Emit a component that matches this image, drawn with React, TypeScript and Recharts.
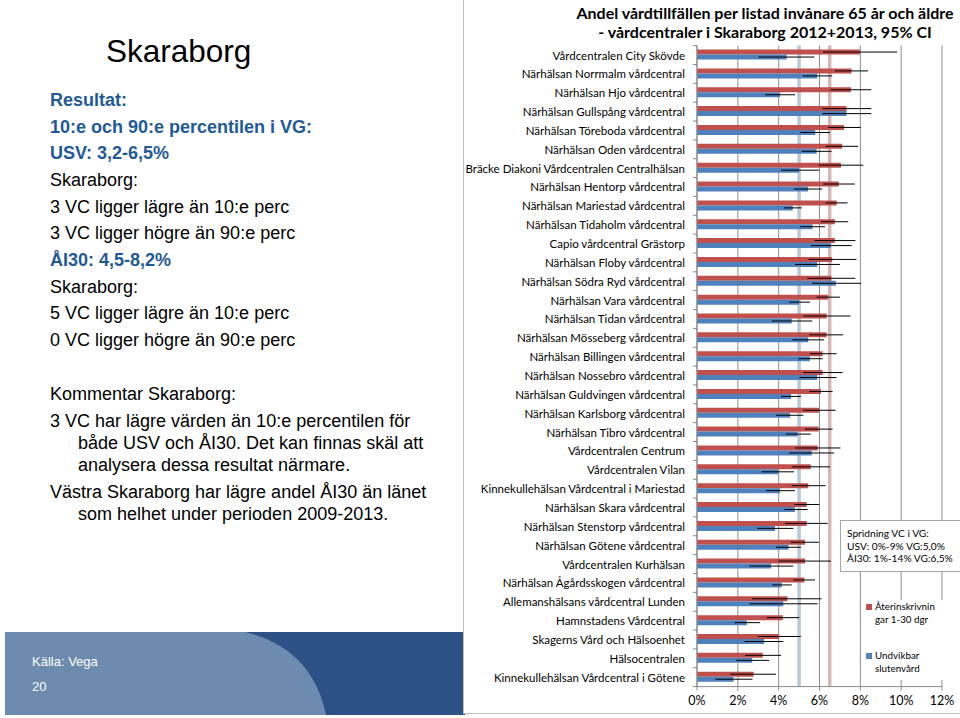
import React from 'react';
import {
  BarChart,
  Bar,
  XAxis,
  YAxis,
  CartesianGrid,
  ErrorBar,
  ReferenceLine,
} from 'recharts';

// Vårdcentraler, top to bottom
const categories = [
  'Vårdcentralen City Skövde',
  'Närhälsan Norrmalm vårdcentral',
  'Närhälsan Hjo vårdcentral',
  'Närhälsan Gullspång vårdcentral',
  'Närhälsan Töreboda vårdcentral',
  'Närhälsan Oden vårdcentral',
  'Bräcke Diakoni Vårdcentralen Centralhälsan',
  'Närhälsan Hentorp vårdcentral',
  'Närhälsan Mariestad vårdcentral',
  'Närhälsan Tidaholm vårdcentral',
  'Capio vårdcentral Grästorp',
  'Närhälsan Floby vårdcentral',
  'Närhälsan Södra Ryd vårdcentral',
  'Närhälsan Vara vårdcentral',
  'Närhälsan Tidan vårdcentral',
  'Närhälsan Mösseberg vårdcentral',
  'Närhälsan Billingen vårdcentral',
  'Närhälsan Nossebro vårdcentral',
  'Närhälsan Guldvingen vårdcentral',
  'Närhälsan Karlsborg vårdcentral',
  'Närhälsan Tibro vårdcentral',
  'Vårdcentralen Centrum',
  'Vårdcentralen Vilan',
  'Kinnekullehälsan Vårdcentral i Mariestad',
  'Närhälsan Skara vårdcentral',
  'Närhälsan Stenstorp vårdcentral',
  'Närhälsan Götene vårdcentral',
  'Vårdcentralen Kurhälsan',
  'Närhälsan Ågårdsskogen vårdcentral',
  'Allemanshälsans vårdcentral Lunden',
  'Hamnstadens Vårdcentral',
  'Skagerns Vård och Hälsoenhet',
  'Hälsocentralen',
  'Kinnekullehälsan Vårdcentral i Götene',
];

// Återinskrivningar 1-30 dgr (%), with 95% CI
const aiValues = [7.98, 7.57, 7.54, 7.32, 7.21, 7.11, 7.05, 6.95, 6.84, 6.75, 6.75, 6.62, 6.58, 6.43, 6.35, 6.35, 6.15, 6.15, 6.07, 5.99, 5.96, 5.91, 5.57, 5.45, 5.37, 5.37, 5.29, 5.29, 5.26, 4.43, 4.2, 4.02, 3.22, 2.77];
const aiLow = [6.18, 6.75, 6.54, 6.14, 6.43, 6.3, 5.96, 6.18, 6.32, 6.07, 5.75, 5.47, 5.4, 5.86, 5.21, 5.5, 5.53, 5.21, 5.5, 5.21, 5.29, 4.8, 4.64, 4.64, 4.77, 4.31, 4.59, 3.99, 4.72, 2.69, 3.42, 2.98, 2.36, 1.63];
const aiHigh = [9.8, 8.38, 8.54, 8.54, 8.02, 7.89, 8.14, 7.73, 7.37, 7.41, 7.76, 7.81, 7.76, 7.0, 7.52, 7.16, 6.84, 7.13, 6.64, 6.79, 6.64, 7.03, 6.51, 6.3, 5.99, 6.4, 5.97, 6.56, 5.78, 6.1, 5.01, 5.08, 4.12, 3.87];

// Undvikbar slutenvård (%), with 95% CI
const usvValues = [4.39, 5.89, 4.07, 7.32, 5.79, 5.86, 5.01, 5.44, 4.69, 5.66, 6.56, 5.89, 6.8, 5.01, 4.64, 5.45, 5.53, 5.89, 4.61, 4.56, 4.93, 5.62, 3.99, 4.07, 4.8, 3.82, 4.48, 3.63, 4.15, 4.23, 2.44, 3.29, 2.7, 1.79];
const usvLow = [3.01, 5.18, 3.34, 6.14, 5.05, 5.13, 4.12, 4.75, 4.26, 5.05, 5.58, 4.8, 5.63, 4.52, 3.66, 4.67, 4.96, 5.01, 4.12, 3.87, 4.35, 4.52, 3.17, 3.39, 4.28, 2.96, 3.87, 2.57, 3.69, 2.57, 1.84, 2.33, 1.92, 0.9];
const usvHigh = [5.75, 6.62, 4.8, 8.54, 6.51, 6.59, 5.97, 6.14, 5.13, 6.27, 7.57, 7.0, 8.04, 5.53, 5.65, 6.23, 6.15, 6.84, 5.09, 5.21, 5.57, 6.72, 4.75, 4.8, 5.42, 4.72, 5.09, 4.72, 4.64, 5.91, 3.09, 4.23, 3.53, 2.72];

const xTicks = [0, 2, 4, 6, 8, 10, 12];

// VG averages drawn as vertical lines
const usvRegion = 5.0;
const aiRegion = 6.5;

const RED = '#c0504d';
const BLUE = '#4f81bd';

const data = categories.map((name, i) => ({
  name,
  ai: aiValues[i],
  aiErr: [aiValues[i] - aiLow[i], aiHigh[i] - aiValues[i]],
  usv: usvValues[i],
  usvErr: [usvValues[i] - usvLow[i], usvHigh[i] - usvValues[i]],
}));

const CHART_W = 500;
const CHART_H = 718;
const MARGIN_TOP = 45.6;
const X_AXIS_H = 31.4;
const BAND = (CHART_H - MARGIN_TOP - X_AXIS_H) / categories.length;

const CategoryTick = (props: any) => {
  const { x, y, payload, index } = props;
  return (
    <g>
      <text
        x={x}
        y={y}
        textAnchor="end"
        dominantBaseline="central"
        fontSize={11.5}
        fontFamily="Lato"
        fill="#000"
      >
        {payload.value}
      </text>
      <line x1={x + 8} x2={x + 12} y1={y - BAND / 2} y2={y - BAND / 2} stroke="#888" />
      {index === categories.length - 1 && (
        <line x1={x + 8} x2={x + 12} y1={y + BAND / 2} y2={y + BAND / 2} stroke="#888" />
      )}
    </g>
  );
};

const LegendBox = () => (
  <div style={{ fontFamily: 'Lato', fontSize: 9.8, lineHeight: '13px', color: '#000' }}>
    <div style={{ position: 'absolute', left: 0, top: 0, display: 'flex' }}>
      <span style={{ width: 6, height: 6, background: RED, marginTop: 4, marginRight: 3 }} />
      <span>Återinskrivnin<br />gar 1-30 dgr</span>
    </div>
    <div style={{ position: 'absolute', left: 0, top: 49, display: 'flex' }}>
      <span style={{ width: 6, height: 6, background: BLUE, marginTop: 4, marginRight: 3 }} />
      <span>Undvikbar<br />slutenvård</span>
    </div>
  </div>
);

const line = (text: string, top: number, left = 50, style: React.CSSProperties = {}) => (
  <div
    style={{
      position: 'absolute',
      left,
      top,
      fontSize: 18,
      lineHeight: '20px',
      whiteSpace: 'nowrap',
      ...style,
    }}
  >
    {text}
  </div>
);

const blueBold: React.CSSProperties = { color: '#1f5a96', fontWeight: 'bold' };

export default function App() {
  return (
    <div
      style={{
        position: 'absolute',
        left: 0,
        top: 0,
        width: 960,
        height: 718,
        overflow: 'hidden',
        background: '#fff',
        fontFamily: '"Liberation Sans", Arial, sans-serif',
        color: '#000',
      }}
    >
      {/* left text panel */}
      <div style={{ position: 'absolute', left: 106, top: 33, fontSize: 31.5, lineHeight: '36px' }}>
        Skaraborg
      </div>
      {line('Resultat:', 90, 50, blueBold)}
      {line('10:e och 90:e percentilen i VG:', 116.7, 50, blueBold)}
      {line('USV: 3,2-6,5%', 143.3, 50, blueBold)}
      {line('Skaraborg:', 170)}
      {line('3 VC ligger lägre än 10:e perc', 196.7)}
      {line('3 VC ligger högre än 90:e perc', 223.3)}
      {line('ÅI30: 4,5-8,2%', 250, 50, blueBold)}
      {line('Skaraborg:', 276.7)}
      {line('5 VC ligger lägre än 10:e perc', 303.3)}
      {line('0 VC ligger högre än 90:e perc', 330)}
      {line('Kommentar Skaraborg:', 384)}
      {line('3 VC har lägre värden än 10:e percentilen för', 410.7)}
      {line('både USV och ÅI30. Det kan finnas skäl att', 433, 78)}
      {line('analysera dessa resultat närmare.', 455, 78)}
      {line('Västra Skaraborg har lägre andel ÅI30 än länet', 481.7)}
      {line('som helhet under perioden 2009-2013.', 504, 78)}

      {/* footer band */}
      <svg style={{ position: 'absolute', left: 0, top: 0 }} width={470} height={718}>
        <rect x={5} y={632} width={460} height={83} fill="#6d8bae" />
        <path d="M245,632 Q312,648 326,715 L465,715 L465,632 Z" fill="#2c5185" />
      </svg>
      <div style={{ position: 'absolute', left: 32, top: 654, fontSize: 13, color: '#fff' }}>
        Källa: Vega
      </div>
      <div style={{ position: 'absolute', left: 32, top: 679, fontSize: 13, color: '#fff' }}>20</div>

      {/* chart box */}
      <div
        style={{
          position: 'absolute',
          left: 463,
          top: -1,
          width: 500,
          height: 715,
          background: '#fff',
          border: '1px solid #bfbfbf',
          boxSizing: 'border-box',
        }}
      />
      <div
        style={{
          position: 'absolute',
          left: 560,
          top: 3,
          width: 410,
          textAlign: 'center',
          fontFamily: 'Lato',
          fontWeight: 'bold',
          fontSize: 16,
          lineHeight: '19px',
          whiteSpace: 'nowrap',
        }}
      >
        Andel vårdtillfällen per listad invånare 65 år och äldre
        <br />- vårdcentraler i Skaraborg 2012+2013, 95% CI
      </div>
      <div style={{ position: 'absolute', left: 460, top: 0 }}>
        <BarChart
          width={CHART_W}
          height={CHART_H}
          data={data}
          layout="vertical"
          margin={{ top: MARGIN_TOP, right: 18, bottom: 0, left: 0 }}
          barCategoryGap="21%"
          barGap={0}
        >
          <CartesianGrid horizontal={false} stroke="#8c8c8c" />
          <ReferenceLine x={usvRegion} stroke="#b7c8d6" strokeWidth={3.5} zIndex={-50} />
          <ReferenceLine x={aiRegion} stroke="#d6b7b6" strokeWidth={3.5} zIndex={-50} />
          <XAxis
            type="number"
            domain={[0, 12]}
            ticks={xTicks}
            height={X_AXIS_H}
            axisLine={{ stroke: '#8c8c8c' }}
            tickLine={{ stroke: '#8c8c8c' }}
            tickSize={4}
            tickMargin={6}
            tickFormatter={(v) => `${v}%`}
            tick={{ fill: '#000', fontSize: 12.5, fontFamily: 'Lato' }}
          />
          <YAxis
            type="category"
            dataKey="name"
            width={237}
            axisLine={{ stroke: '#888' }}
            tickLine={false}
            tickSize={6}
            tickMargin={6}
            interval={0}
            tick={<CategoryTick />}
          />
          <Bar dataKey="ai" fill={RED} isAnimationActive={false}>
            <ErrorBar dataKey="aiErr" direction="x" width={0} stroke="#000" strokeWidth={1} />
          </Bar>
          <Bar dataKey="usv" fill={BLUE} isAnimationActive={false}>
            <ErrorBar dataKey="usvErr" direction="x" width={0} stroke="#000" strokeWidth={1} />
          </Bar>
        </BarChart>
      </div>

      {/* annotation box */}
      <div
        style={{
          position: 'absolute',
          left: 840,
          top: 520,
          width: 130,
          height: 52,
          background: '#fff',
          border: '1px solid #a6a6a6',
          boxSizing: 'border-box',
          padding: '6px 0 0 6px',
          fontFamily: 'Lato',
          fontSize: 10.2,
          lineHeight: '12.5px',
        }}
      >
        Spridning VC i VG:
        <br />
        USV: 0%-9% VG:5,0%
        <br />
        ÅI30: 1%-14% VG:6,5%
      </div>

      {/* legend */}
      <div style={{ position: 'absolute', left: 866, top: 600, width: 94, height: 80, background: '#fff' }}>
        <LegendBox />
      </div>
    </div>
  );
}
